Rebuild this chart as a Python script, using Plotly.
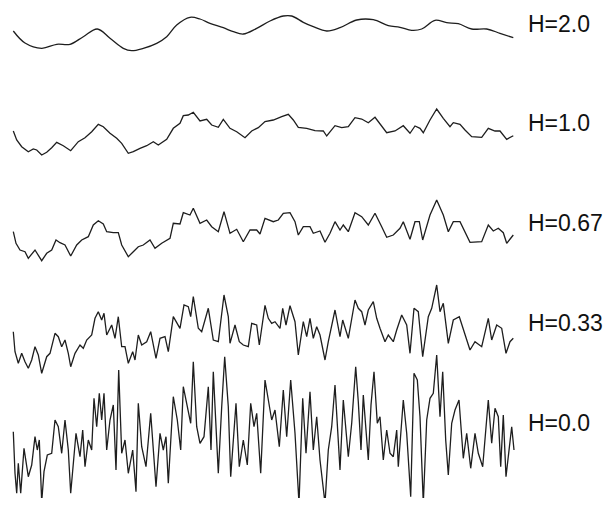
import plotly.graph_objects as go

labels = ["H=2.0", "H=1.0", "H=0.67", "H=0.33", "H=0.0"]

t_h20 = [13.3, 25, 41.7, 56.7, 70, 83.3, 97.3, 110, 123.3, 131.7, 143.3, 156.7, 166.7, 176.7, 190, 200, 210,
         223.3, 233.3, 243.3, 256.7, 270, 283.3, 291.7, 303.3, 313.3, 326.7, 340, 356.7, 373.3, 388.3, 400,
         411.7, 421.7, 435, 446.7, 458.3, 471.7, 486.7, 500, 513.3]
v_h20 = [-1, -13, -18.3, -14.3, -14.3, -6.7, 1, -8.3, -18.3, -20.7, -18.3, -13.3, -6.7, 5, 12.7, 11, 6.7,
         2.3, -1.7, -4, 1.7, 9, 14, 14, 7.7, 3.3, -1, 2.3, 10, 10.3, 4.3, 2.7,
         -0.3, 1, 9.7, 7.3, 6.3, 1, 1, -3.3, -7.7]

t_h10 = [13.3, 16.7, 21.7, 28.3, 33.3, 36.7, 41.7, 46.7, 51.7, 56.7, 63.3, 70.7, 78.3, 85, 91.7, 98.3, 103.3,
         110, 116.7, 121.7, 128.3, 133.3, 140, 146.7, 153.3, 158.3, 166.7, 173.3, 180, 183.3, 188.3, 193.3,
         200, 206.7, 211.7, 218.3, 223.3, 230, 236.7, 245, 251.7, 258.3, 265, 273.3, 281.7, 288.3, 293.3,
         298.3, 306.7, 315, 323.3, 326.7, 335, 341.7, 348.3, 355, 361.7, 368.3, 375, 381.7, 386.7, 395,
         403.3, 410, 415, 420, 423.3, 430, 436.7, 443.3, 450, 453.3, 460, 465, 471.7, 481.7, 488.3, 495,
         500, 506.7, 513.3]
v_h10 = [-1, -10, -16.7, -21.7, -19, -20, -25, -22.3, -17.7, -12.3, -15.7, -20.7, -11.7, -7.7, -1.7, 5.7, 3.3,
         -3.3, -8.3, -13.3, -23.3, -21.7, -18.3, -15.7, -11.7, -15, -9.3, 1.7, 6.7, 14.3, 15, 17.7,
         9, 10.7, 5, 2.7, 10.7, 1.7, -1.7, -7.7, -1, 2.3, 8.5, 10, 13.3, 15.7, 10,
         2.7, 1.7, -0.7, -1, -6, 4.3, 2.3, 3.3, 12.3, 11, 7.3, 12.7, 3.3, -2.7, -1,
         4.3, -3.3, 4, 1.7, -2.7, 10, 21, 11.7, 3.3, 7.3, 5.7, 0, -6.7, -7.3, 1.7, -1,
         -1, -9.3, -5.7]

t_h067 = [13.3, 16, 20, 25, 28.3, 35, 41.7, 46.7, 51.7, 56, 60, 65, 70.7, 76.7, 81.7, 88.3, 93.3, 98.3,
          103.3, 106.7, 113.3, 118.3, 121.7, 128.3, 133.3, 138.3, 143.3, 150, 155, 161.7, 170, 173.3, 180,
          183.3, 190, 193.3, 200, 206.7, 211.7, 218.3, 224, 230, 236.7, 243.3, 250, 256.7, 260, 265,
          273.3, 278.3, 283.3, 290, 295, 298.3, 303.3, 310, 313.3, 320, 325, 330, 335, 340, 343.3, 348.3,
          355, 361.7, 368.3, 375, 381.7, 386.7, 393.3, 400, 403.3, 410, 415, 419.3, 422.7, 430, 436.7,
          443.3, 448.3, 453.3, 460, 465, 470, 481.7, 488.3, 493.3, 498.3, 503.3, 506.7, 513.3]
v_h067 = [-1.7, -13.3, -20, -21.7, -28.3, -20, -30.7, -23.3, -20, -10, -12.7, -15, -26, -15, -10, -6.7, 5, 9.3,
          6, -1.7, -2.7, -2.7, -15, -26.7, -21.7, -16.7, -15, -10, -18.3, -13.3, -8.3, 6.7, 6,
          17.3, 15, 21.7, 6.7, 10, 3.3, -1.7, 18.3, -3.3, 0.7, -11.7, 0, 0, -4, 11.7,
          8.3, 10, 16.7, 17.3, 8.3, -5, 3.3, 3.3, -3.3, -1, -12.3, -3.3, 8.3, 0, 5, -1.7,
          17.3, 13.3, 5, 16.7, 3.3, -7.3, -5, 1.7, 8.3, -9.3, 8.3, 8.3, -10, 15, 30,
          15, -1.7, 8.3, 8.3, -1.7, -12.3, -11.7, 5, -1, 1.7, -2.7, -13.3, -5]

t_h033 = [13.3, 15, 18.3, 21.7, 25, 28.3, 31.7, 35, 38.3, 41.7, 46.7, 50, 55, 58.3, 61.7, 65, 68.3, 70.7,
          75, 80, 83.3, 86.7, 91.7, 95, 98.3, 101.7, 104, 106.7, 111.7, 115, 118.3, 121.7, 125, 128.3,
          132.7, 135, 138.3, 141.7, 146.7, 150.7, 156, 160, 165, 168.3, 173.3, 180, 184, 188.3, 190.7,
          193.3, 198.3, 201.7, 208.3, 213.3, 218.3, 224, 228.3, 230, 235, 239.3, 243.3, 248.3, 251.7,
          256.7, 259.3, 265, 268.3, 271.7, 275, 280, 282.7, 286, 290, 295, 298.3, 303.3, 306.7, 310,
          313.3, 316.7, 320, 325, 328.3, 335, 340, 342.7, 348.3, 355, 358.3, 361.7, 365, 368.3, 373.3,
          376.7, 380, 385, 388.3, 393.3, 396.7, 401.7, 406.7, 410, 414, 418.3, 422.7, 428.3, 431.7,
          436.7, 440, 443.3, 448.3, 453.3, 459.3, 465, 470, 475, 481.7, 488.3, 491.7, 496.7, 501.7,
          506, 510, 513.3]
v_h033 = [-1.7, -21.7, -33.3, -23.3, -31.7, -38.3, -30, -16.7, -25, -43.3, -26.7, -23.3, -3.3, -6.7, -16.7, -10,
          -23.3, -36.7, -23.3, -15, -18.3, -10, -5, 11.7, 18.3, 10, 16.7, -5, 5, -8.3, 13.3, -16.7, -16.7,
          -33.3, -21.7, -30, -5, -15, -11.7, -1.7, -28.3, -8.3, -6.7, -21.7, 13.3, 1.7, 25, 23.3, 13.3,
          33.3, 1.7, -1.7, 21.7, -10, -11.7, 35, 13.3, -13.3, 5, -11.7, -15, -16.7, 6.7,
          5, -15, 24.7, 11.7, 6.7, 8.3, 1.7, 21.7, 5, 24.3, 8.3, -25, 8.3, -6.7, 11.7,
          -8.3, 3.3, -5, -30, -11.7, 20, -6.7, 10, -8.3, 30, 21.7, 18.3, 5, 20, 28.3,
          11.7, 1.7, -11.7, -5, -11.7, 0, 15, 5, -23.3, 21.7, 18.3, -26.7, 13.3, 21.7,
          45, 18.3, 26.7, -13.3, 10, 13.3, -5, -20, -11.7, -16.7, 11.7, -10, 5, 1.7,
          -23.3, -11.7, -8.3]

t_h00 = [13.3, 15, 16.7, 18.3, 20.7, 24, 28.3, 31.7, 35, 37.3, 39.3, 41.7, 44, 47.3, 51.7, 55, 58.3, 61.7,
         65, 68.3, 70.7, 76, 80, 82.7, 85, 88.3, 91.7, 94, 96.7, 99.3, 101.7, 104, 106.7, 110, 113.3, 116,
         118.7, 121.7, 125, 128.3, 132.7, 136, 138.3, 141.7, 146, 150.7, 156, 160, 163.3, 166, 168.3,
         173.3, 177.3, 180.7, 183.3, 188.3, 190.7, 193.3, 196.7, 200, 204, 208.3, 211, 213.3, 218.3,
         221.7, 224.7, 228.3, 230.7, 236, 239.3, 243.3, 247.3, 250.7, 254, 256.7, 260.7, 265, 268.3,
         271.7, 275, 279.3, 283.3, 286.7, 290.7, 295, 299, 302.7, 306, 310, 313.3, 316.7, 320, 325,
         328.3, 331.7, 335, 340, 343.3, 348.3, 351.7, 355.7, 358.3, 361, 363.3, 368.3, 371, 374, 377.3,
         380, 383.3, 386.7, 390, 393.3, 396.7, 398.3, 403.3, 406.7, 410.7, 414, 417.3, 420, 423.3,
         426.7, 430, 433.3, 436.7, 440, 442.7, 445.7, 448.3, 451.7, 455, 459, 463.3, 466.7, 470.7, 475,
         478.3, 482.7, 488.3, 491.7, 495, 498.3, 500.7, 503.3, 506, 509.3, 511.7, 514]
v_h00 = [8.3, -33.3, -53.3, -23.3, -53.3, -8.3, -36.7, -25, 3.3, -10, 0, -61.7, -31.7, -15, -13.3, 20, 13.3, -13.3,
         20, -10, -53.3, 6.7, -16.7, 10, -26.7, 0, -10, 41.7, 13.3, 46.7, 20, 46.7, -10, 20, 35, -30,
         70, -13.3, 0, -33.3, -10, -51.7, 36.7, -6.7, -26.7, 26.7, -46.7, 6.7, -10, 3.3, -43.3,
         43.3, 20, -10, 53.3, 26.7, 16.7, 78.3, 13.3, -3.3, 3.3, 53.3, -10, 68.3, -33.3,
         33.3, 83.3, 33.3, -36.7, 36.7, -26.7, 0, -25, 36.7, 13.3, 26.7, -33.3, 60, 38.3,
         20, 30, -6.7, 50, 3.3, 60, 6.7, -63.3, 41.7, -13.3, 48.3, -10, 23.3, -20, -63.3,
         -10, 13.3, 55, -30, 40, -16.7, 16.7, 73.3, 38.3, -10, 45, -20, 35, 68.3, 16.7,
         23.3, -20, 10, -13.3, -16.7, 10, -26.7, 40, 6.7, -56.7, 66.7, 60, 23.3, -63.3,
         20, 41.7, 46.7, 85, 23.3, 68.3, 0, -35, 16.7, 30, 40, -18.3, 6.7, -28.3, 6.7,
         -13.3, -26.7, 40, -3.3, 31.7, 23.3, -26.7, 25, -36.7, -10, 13.3, -10]

series = [(t_h20, v_h20), (t_h10, v_h10), (t_h067, v_h067), (t_h033, v_h033), (t_h00, v_h00)]

# layout (vertical stacking) parameters; page has an 8px body margin on each side
PAGE_W, PAGE_H, BODY = 611, 506, 8
W, Hh = PAGE_W - BODY, PAGE_H - 2 * BODY
trace_center = [30, 130, 230, 330, 440]
label_center = [24, 123, 223, 323, 423]

fig = go.Figure()
for i, (t, v) in enumerate(series):
    y = [val - trace_center[i] for val in v]
    fig.add_trace(go.Scatter(
        x=t, y=y, mode="lines",
        line=dict(color="#1e1e1e", width=1.3,
                  shape="spline" if i == 0 else "linear",
                  smoothing=1.0 if i == 0 else None),
        cliponaxis=False,
        hoverinfo="skip", showlegend=False))
    fig.add_annotation(x=527, y=-label_center[i], text=labels[i], showarrow=False,
                       xanchor="left", yanchor="middle", borderpad=0,
                       font=dict(family="Liberation Sans, Arial, sans-serif", size=23, color="#111111"))

fig.update_layout(
    width=W, height=Hh,
    margin=dict(l=0, r=0, t=0, b=0),
    paper_bgcolor="white", plot_bgcolor="white",
    xaxis=dict(range=[BODY, PAGE_W], visible=False, fixedrange=True),
    yaxis=dict(range=[-(PAGE_H - BODY), -BODY], visible=False, fixedrange=True),
)
fig.write_html("out.html")
